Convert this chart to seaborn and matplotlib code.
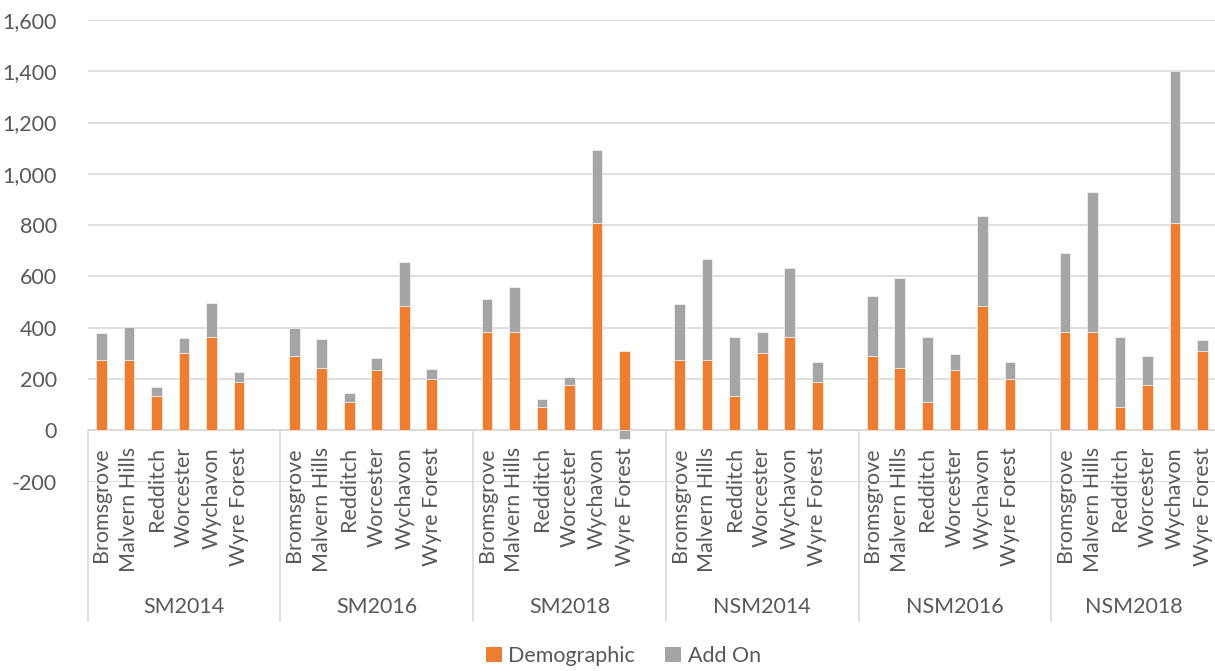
import numpy as np
import pandas as pd
import matplotlib
matplotlib.use("Agg")
import matplotlib.pyplot as plt
from matplotlib.patches import Patch
from matplotlib.ticker import FuncFormatter
import seaborn as sns

# Scenarios (outer axis level) and districts (inner axis level)
scenarios = ["SM2014", "SM2016", "SM2018", "NSM2014", "NSM2016", "NSM2018"]
districts = ["Bromsgrove", "Malvern Hills", "Redditch", "Worcester", "Wychavon", "Wyre Forest"]

# Demographic requirement per district
dem_sm2014 = [273, 276, 135, 303, 364, 190]
dem_sm2016 = [291, 243, 112, 237, 486, 200]
dem_sm2018 = [383, 383, 92, 176, 810, 309]
dem_nsm2014 = [273, 276, 135, 303, 364, 190]
dem_nsm2016 = [291, 243, 112, 237, 486, 200]
dem_nsm2018 = [383, 383, 92, 176, 810, 309]

# Add-on requirement per district
add_sm2014 = [105, 126, 35, 57, 131, 39]
add_sm2016 = [109, 112, 32, 44, 170, 40]
add_sm2018 = [129, 176, 30, 31, 284, -32]
add_nsm2014 = [220, 392, 230, 80, 269, 76]
add_nsm2016 = [233, 351, 253, 62, 351, 66]
add_nsm2018 = [310, 545, 273, 113, 590, 42]

demographic = [dem_sm2014, dem_sm2016, dem_sm2018, dem_nsm2014, dem_nsm2016, dem_nsm2018]
add_on = [add_sm2014, add_sm2016, add_sm2018, add_nsm2014, add_nsm2016, add_nsm2018]

ORANGE = "#ED7D31"
GREY = "#A5A5A5"
TEXT = "#595959"
GRID = "#D9D9D9"

# One empty slot between scenario groups
GROUP_STRIDE = len(districts) + 1
n_slots = GROUP_STRIDE * len(scenarios) - 1

rows = []
for g, scen in enumerate(scenarios):
    for i, d in enumerate(districts):
        rows.append({"slot": GROUP_STRIDE * g + i, "scenario": scen, "district": d,
                     "Demographic": demographic[g][i], "Add On": add_on[g][i]})
df = pd.DataFrame(rows)

sns.set_theme(style="white")
plt.rcParams["font.family"] = ["Lato", "DejaVu Sans"]
FS = 15.5

fig = plt.figure(figsize=(12.15, 6.71), dpi=100)
ax = fig.add_axes([87.7 / 1215, 1 - 481.6 / 671, (1216.4 - 87.7) / 1215, (481.6 - 20.0) / 671])

BAR_W = 0.39
sns.barplot(data=df, x="slot", y="Demographic", order=list(range(n_slots)),
            color=ORANGE, saturation=1, width=BAR_W, errorbar=None,
            edgecolor="white", linewidth=0.4, ax=ax, zorder=3)

# Add-on stacks on top of the demographic part; negative values hang below zero
add_vals = df["Add On"].to_numpy()
add_bottom = np.where(add_vals >= 0, df["Demographic"].to_numpy(), 0)
ax.bar(df["slot"], add_vals, bottom=add_bottom, width=BAR_W, color=GREY,
       edgecolor="white", linewidth=0.4, zorder=3)

ax.set_xlim(-0.5, n_slots - 0.5)
ax.set_ylim(-200, 1600)
ax.set_yticks(np.arange(-200, 1601, 200))
ax.yaxis.set_major_formatter(FuncFormatter(lambda v, p: f"{v:,.0f}"))
ax.yaxis.grid(True, color=GRID, linewidth=1.2, zorder=0)
ax.set_axisbelow(True)
ax.axhline(0, color=GRID, linewidth=1.2, zorder=1)
for s in ax.spines.values():
    s.set_visible(False)
ax.tick_params(axis="y", length=0, pad=22, labelsize=FS, labelcolor=TEXT)
ax.tick_params(axis="x", length=0)
ax.set_xticklabels([])
ax.set_xlabel("")
ax.set_ylabel("")

# Inner category labels (districts), rotated, hanging from the zero line
for _, r in df.iterrows():
    ax.annotate(r["district"], xy=(r["slot"], 0), xycoords="data",
                xytext=(0, -12), textcoords="offset points",
                rotation=90, ha="center", va="top", fontsize=FS, color=TEXT,
                annotation_clip=False)

# Outer category labels (scenarios) and group separators
sep_depth = -745
for g, scen in enumerate(scenarios):
    start = GROUP_STRIDE * g - 0.5
    end = min(start + GROUP_STRIDE, n_slots - 0.5)
    ax.annotate(scen, xy=((start + end) / 2, 0), xycoords="data",
                xytext=(0, -127.5), textcoords="offset points",
                ha="center", va="center", fontsize=FS, color=TEXT,
                annotation_clip=False)
    ax.plot([start, start], [0, sep_depth], color=GRID, linewidth=1.2,
            clip_on=False, zorder=1)

handles = [Patch(facecolor=ORANGE, edgecolor="none", label="Demographic"),
           Patch(facecolor=GREY, edgecolor="none", label="Add On")]
fig.legend(handles=handles, loc="center", bbox_to_anchor=(0.513, 1 - 656 / 671),
           ncol=2, frameon=False, fontsize=FS, labelcolor=TEXT,
           handlelength=0.75, handleheight=0.75, handletextpad=0.3, columnspacing=1.4)

fig.savefig("out.png", dpi=100, facecolor="white")
